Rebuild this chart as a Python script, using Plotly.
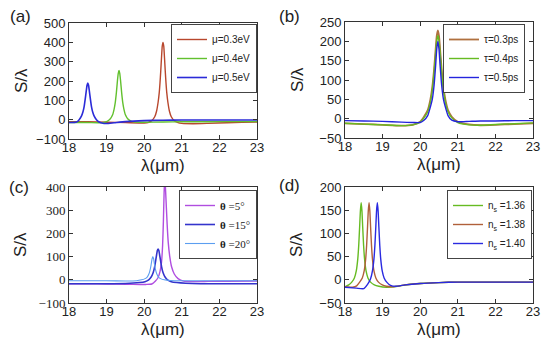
import plotly.graph_objects as go

# ---------------- data ----------------
# (a) chemical potential
a_labels = ["μ=0.3eV", "μ=0.4eV", "μ=0.5eV"]
a_x_03 = [18.0, 18.5, 19.0, 19.5, 20.0, 20.1, 20.2, 20.28, 20.33, 20.37, 20.4, 20.42, 20.44, 20.46, 20.48, 20.5,
          20.52, 20.54, 20.56, 20.58, 20.6, 20.63, 20.67, 20.72, 20.8, 20.9, 21.0, 21.3, 21.7, 22.2, 22.6, 23.0]
a_y_03 = [-10, -11, -13, -15, -17, -15, -5, 15, 45, 90, 140, 190, 250, 320, 380, 400,
          380, 320, 250, 190, 140, 90, 45, 15, -5, -15, -19, -21, -19, -16, -14, -12]
a_x_04 = [18.0, 18.5, 18.8, 19.0, 19.1, 19.16, 19.2, 19.23, 19.26, 19.29, 19.31, 19.33, 19.35, 19.37, 19.4,
          19.43, 19.46, 19.5, 19.56, 19.65, 19.75, 20.0, 20.5, 21.0, 21.5, 22.0, 22.5, 23.0]
a_y_04 = [-15, -15, -16, -10, 5, 25, 55, 88, 140, 205, 240, 255, 240, 205, 140,
          88, 55, 25, 5, -8, -12, -13, -12, -11, -11, -10, -10, -10]
a_x_05 = [18.0, 18.2, 18.27, 18.33, 18.37, 18.4, 18.43, 18.46, 18.48, 18.5, 18.52, 18.54, 18.57, 18.6, 18.63,
          18.67, 18.73, 18.8, 18.9, 19.0, 19.2, 19.5, 20.0, 20.5, 21.0, 22.0, 23.0]
a_y_05 = [-15, -12, 0, 18, 40, 65, 105, 150, 178, 190, 178, 150, 105, 65, 40,
          18, 0, -12, -19, -20, -16, -10, -5, -3, -2, -2, -2]

# (b) relaxation time
b_labels = ["τ=0.3ps", "τ=0.4ps", "τ=0.5ps"]
b_x = [18.0, 18.5, 19.0, 19.5, 19.8, 20.0, 20.1, 20.2, 20.27, 20.32, 20.37, 20.41, 20.44, 20.47, 20.5,
       20.53, 20.57, 20.62, 20.67, 20.74, 20.84, 21.0, 21.3, 21.6, 22.0, 22.5, 23.0]
b_y_03 = [-12, -14, -16, -18, -16, -8, 5, 22, 49, 80, 128, 179, 214, 228, 214,
          179, 128, 80, 49, 22, 5, -8, -15, -17, -16, -14, -12]
b_y_04 = [-12, -14, -16, -18, -16, -9, 2, 18, 42, 72, 120, 168, 201, 215, 201,
          168, 120, 72, 42, 18, 2, -10, -16, -17, -15, -13, -11]
b_y_05 = [-5, -6, -7, -9, -10, -10, -4, 8, 30, 49, 87, 137, 180, 200, 180,
          137, 87, 49, 30, 8, -4, -8, -7, -6, -6, -5, -5]

# (c) incidence angle
c_labels = ["<b>θ</b> =5°", "<b>θ</b> =15°", "<b>θ</b> =20°"]
c_x_5 = [18.0, 18.5, 19.0, 19.5, 19.9, 20.05, 20.2, 20.3, 20.37, 20.42, 20.46, 20.49, 20.51, 20.53, 20.55,
         20.57, 20.59, 20.61, 20.64, 20.68, 20.73, 20.8, 20.9, 21.05, 21.3, 21.7, 22.2, 23.0]
c_y_5 = [-17, -17, -18, -19, -20, -20, -18, -5, 10, 35, 75, 150, 250, 380, 440,
         380, 310, 240, 160, 100, 55, 25, 5, -6, -8, -7, -6, -5]
c_x_15 = [18.0, 18.5, 19.0, 19.5, 19.87, 20.02, 20.12, 20.19, 20.24, 20.28, 20.32, 20.35, 20.37, 20.39,
          20.42, 20.46, 20.5, 20.55, 20.62, 20.72, 20.87, 21.1, 21.5, 22.0, 22.5, 23.0]
c_y_15 = [-17, -17, -17, -16, -12, -8, 0, 13, 31, 58, 98, 126, 133, 126,
          98, 58, 31, 13, 0, -8, -12, -15, -17, -17, -17, -17]
c_x_20 = [18.0, 18.5, 19.0, 19.5, 19.8, 19.93, 20.01, 20.08, 20.13, 20.165, 20.19, 20.21, 20.23, 20.25,
          20.27, 20.295, 20.33, 20.38, 20.45, 20.53, 20.7, 21.0, 21.5, 22.0, 23.0]
c_y_20 = [-4, -4, -4, -5, -4, 0, 4, 12, 27, 48, 71, 91, 100, 91,
          71, 48, 27, 12, 4, 0, -3, -4, -4, -4, -4]

# (d) refractive index of analyte
d_labels = ["n<sub>s</sub> =1.36", "n<sub>s</sub> =1.38", "n<sub>s</sub> =1.40"]
d_x_136 = [18.0, 18.1, 18.18, 18.25, 18.30, 18.34, 18.365, 18.39, 18.41, 18.43, 18.45, 18.47, 18.495, 18.52,
           18.56, 18.61, 18.68, 18.78, 18.9, 19.1, 19.4, 19.7, 20.0, 20.5, 21.0, 22.0, 23.0]
d_y_136 = [-15, -11, -5, 4, 19, 45, 74, 115, 149, 166, 149, 115, 74, 45,
           19, 4, -5, -11, -14, -16, -14, -10, -8, -6, -5, -5, -5]
d_x_138 = [18.0, 18.2, 18.31, 18.39, 18.46, 18.51, 18.55, 18.575, 18.6, 18.62, 18.64, 18.66, 18.68, 18.705,
           18.73, 18.77, 18.82, 18.89, 18.99, 19.1, 19.3, 19.6, 20.0, 20.5, 21.0, 22.0, 23.0]
d_y_138 = [-15, -16, -13, -5, 4, 19, 45, 74, 115, 149, 166, 149, 115, 74,
           45, 19, 4, -5, -11, -14, -15, -11, -8, -6, -5, -5, -5]
d_x_140 = [18.0, 18.3, 18.5, 18.6, 18.68, 18.73, 18.77, 18.795, 18.82, 18.84, 18.86, 18.88, 18.9, 18.925,
           18.95, 18.99, 19.04, 19.11, 19.21, 19.35, 19.6, 20.0, 20.5, 21.0, 22.0, 23.0]
d_y_140 = [-16, -18, -19, -10, 2, 19, 45, 74, 115, 149, 166, 149, 115, 74,
           45, 19, 4, -5, -12, -14, -11, -8, -6, -5, -5, -5]

x_ticks = [18, 19, 20, 21, 22, 23]
panel_tags = ["(a)", "(b)", "(c)", "(d)"]

# ---------------- figure ----------------
W, H = 550, 347
fig = go.Figure()

def px_x(p):
    return p / W

def px_y(p):
    return 1 - p / H

SANS = "Liberation Sans, Arial, sans-serif"
SERIF = "Liberation Serif, Times New Roman, serif"

def add(x, y, name, color, xa, ya, legend, width=1.4):
    fig.add_trace(go.Scatter(x=x, y=y, name=name, mode="lines",
                             line=dict(color=color, width=width, shape="spline", smoothing=0.5),
                             xaxis=xa, yaxis=ya, legend=legend))

add(a_x_03, a_y_03, a_labels[0], "#b8472d", "x", "y", "legend")
add(a_x_04, a_y_04, a_labels[1], "#62c02e", "x", "y", "legend")
add(a_x_05, a_y_05, a_labels[2], "#2b2bd8", "x", "y", "legend", 1.6)

add(b_x, b_y_03, b_labels[0], "#b0703f", "x2", "y2", "legend2", 1.8)
add(b_x, b_y_04, b_labels[1], "#66bb22", "x2", "y2", "legend2")
add(b_x, b_y_05, b_labels[2], "#2424dd", "x2", "y2", "legend2")

add(c_x_5, c_y_5, c_labels[0], "#b04ee0", "x3", "y3", "legend3")
add(c_x_15, c_y_15, c_labels[1], "#3434cc", "x3", "y3", "legend3", 1.6)
add(c_x_20, c_y_20, c_labels[2], "#5c9ef0", "x3", "y3", "legend3", 1.1)

add(d_x_136, d_y_136, d_labels[0], "#66bb22", "x4", "y4", "legend4")
add(d_x_138, d_y_138, d_labels[1], "#b0603a", "x4", "y4", "legend4")
add(d_x_140, d_y_140, d_labels[2], "#2a2ae0", "x4", "y4", "legend4")

boxes = {
    # name: (x0, x1, ytop, ybottom) in pixels
    "1": (69, 257, 23, 139),
    "2": (345, 533, 22, 138),
    "3": (69, 257, 187, 303),
    "4": (345, 533, 187, 303),
}
yranges = {"1": ([-100, 500], 100), "2": ([-50, 250], 50), "3": ([-100, 400], 100), "4": ([-50, 200], 50)}

axis_common = dict(showline=True, mirror="ticks", linecolor="#333333", linewidth=1,
                   ticks="inside", ticklen=4, tickcolor="#333333", showgrid=False, zeroline=False,
                   automargin=False)

layout = {}
for k, (x0, x1, yt, yb) in boxes.items():
    xname = "xaxis" if k == "1" else f"xaxis{k}"
    yname = "yaxis" if k == "1" else f"yaxis{k}"
    yanchor = "y" if k == "1" else f"y{k}"
    xanchor = "x" if k == "1" else f"x{k}"
    layout[xname] = dict(domain=[px_x(x0), px_x(x1)], anchor=yanchor, range=[18, 23],
                         tickvals=x_ticks, tickfont=dict(family=SANS, size=13, color="#222"),
                         ticklabelstandoff=-4, **axis_common)
    yr, dt = yranges[k]
    yfont = dict(family=SERIF if k == "3" else SANS, size=13, color="#222")
    layout[yname] = dict(domain=[px_y(yb), px_y(yt)], anchor=xanchor, range=yr, dtick=dt, tick0=0,
                         tickfont=yfont, **axis_common)

legend_common = dict(bgcolor="white", bordercolor="#444", borderwidth=1, xanchor="right", yanchor="top",
                     itemwidth=30, tracegroupgap=0)
fig.update_layout(
    width=W, height=H, margin=dict(l=0, r=0, t=0, b=0, autoexpand=False),
    paper_bgcolor="white", plot_bgcolor="white",
    showlegend=True,
    legend=dict(x=px_x(257), y=px_y(24), font=dict(family=SANS, size=10, color="#222"), **legend_common),
    legend2=dict(x=px_x(525), y=px_y(24), font=dict(family=SANS, size=10, color="#222"), **legend_common),
    legend3=dict(x=px_x(257), y=px_y(190), font=dict(family=SERIF, size=11, color="#222"), **legend_common),
    legend4=dict(x=px_x(532), y=px_y(190), font=dict(family=SANS, size=10, color="#222"), **legend_common),
    **layout,
)

annotations = []
for k, (x0, x1, yt, yb) in boxes.items():
    cx = (x0 + x1) / 2
    annotations.append(dict(text="λ(μm)", x=px_x(cx), y=px_y(yb + 26), xref="paper", yref="paper",
                            showarrow=False, font=dict(family=SANS, size=17, color="#222"),
                            xanchor="center", yanchor="middle"))
    annotations.append(dict(text="S/λ", x=px_x(x0 - 48), y=px_y((yt + yb) / 2), xref="paper", yref="paper",
                            showarrow=False, textangle=-90, font=dict(family=SANS, size=17, color="#222"),
                            xanchor="center", yanchor="middle"))
tag_pos = [(20, 17), (289, 17), (19, 188), (289, 185)]
for t, (tx, ty) in zip(panel_tags, tag_pos):
    annotations.append(dict(text=t, x=px_x(tx), y=px_y(ty), xref="paper", yref="paper", showarrow=False,
                            font=dict(family=SANS, size=17, color="#222"), xanchor="center", yanchor="middle"))
fig.update_layout(annotations=annotations)

fig.write_html("out.html", config={"displayModeBar": False},
               post_script="document.body.style.margin='0';")
